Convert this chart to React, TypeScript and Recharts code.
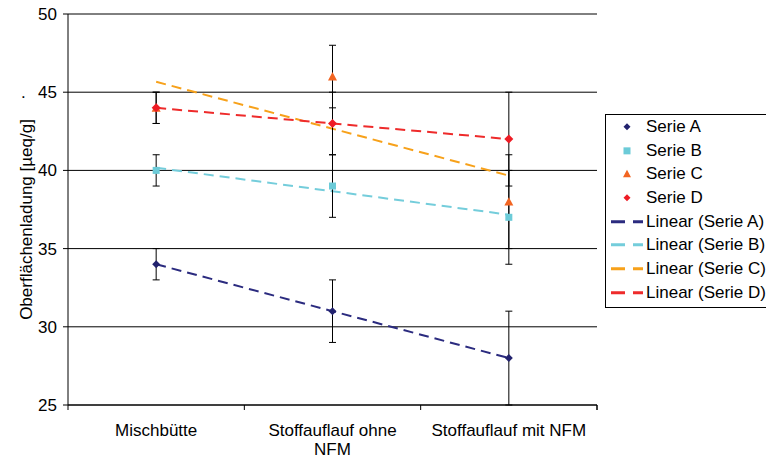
import React from 'react'
import { ComposedChart, Line, XAxis, YAxis, CartesianGrid, ErrorBar } from 'recharts'

const categories = ['Mischbütte', 'Stoffauflauf ohne NFM', 'Stoffauflauf mit NFM']
const serieA = [34, 31, 28]
const serieB = [40, 39, 37]
const serieC = [44, 46, 38]
const serieD = [44, 43, 42]
const errorA = [1, 2, 3]
const errorB = [1, 2, 3]
const errorC = [1, 2, 3]
const errorD = [1, 2, 3]
const yTicks = [25, 30, 35, 40, 45, 50]

const FONT = '"Liberation Sans", Arial, sans-serif'

// least squares line over the category index, like Excel's "Linear" trendline
const linearFit = (values: number[]) => {
    const n = values.length
    const xs = values.map((_, i) => i + 1)
    const mx = xs.reduce((a, b) => a + b, 0) / n
    const my = values.reduce((a, b) => a + b, 0) / n
    let num = 0
    let den = 0
    xs.forEach((x, i) => {
        num += (x - mx) * (values[i] - my)
        den += (x - mx) ** 2
    })
    const slope = num / den
    return xs.map((x) => my + slope * (x - mx))
}

type Shape = 'diamond' | 'square' | 'triangle'

const series = [
    { key: 'A', name: 'Serie A', values: serieA, errors: errorA, marker: '#22226e', line: '#2b2b7f', shape: 'diamond' as Shape, size: 4 },
    { key: 'B', name: 'Serie B', values: serieB, errors: errorB, marker: '#6ccbd8', line: '#74cddb', shape: 'square' as Shape, size: 3.5 },
    { key: 'C', name: 'Serie C', values: serieC, errors: errorC, marker: '#f26522', line: '#f7a11a', shape: 'triangle' as Shape, size: 4.5 },
    { key: 'D', name: 'Serie D', values: serieD, errors: errorD, marker: '#ee1c25', line: '#ee2b2b', shape: 'diamond' as Shape, size: 4.5 },
]

const data = categories.map((cat, i) => {
    const row: Record<string, string | number> = { cat }
    series.forEach((s) => {
        row[s.key] = s.values[i]
        row['e' + s.key] = s.errors[i]
        row['t' + s.key] = linearFit(s.values)[i]
    })
    return row
})

// word wrap like Excel does for long category names
let ctx: CanvasRenderingContext2D | null = null
const wrapLabel = (label: string, maxWidth: number) => {
    if (!ctx) ctx = document.createElement('canvas').getContext('2d')
    if (!ctx) return [label]
    ctx.font = `17px ${FONT}`
    const words = label.split(' ')
    const lines: string[] = []
    let cur = ''
    words.forEach((w) => {
        const next = cur ? cur + ' ' + w : w
        if (cur && ctx!.measureText(next).width > maxWidth) {
            lines.push(cur)
            cur = w
        } else {
            cur = next
        }
    })
    if (cur) lines.push(cur)
    return lines
}

const drawShape = (shape: Shape, cx: number, cy: number, r: number, color: string, key?: string) => {
    if (shape === 'square') {
        return <rect key={key} x={cx - r} y={cy - r} width={r * 2} height={r * 2} fill={color} />
    }
    if (shape === 'triangle') {
        return (
            <polygon
                key={key}
                points={`${cx},${cy - r} ${cx + r},${cy + r * 0.85} ${cx - r},${cy + r * 0.85}`}
                fill={color}
            />
        )
    }
    return (
        <polygon
            key={key}
            points={`${cx},${cy - r} ${cx + r},${cy} ${cx},${cy + r} ${cx - r},${cy}`}
            fill={color}
        />
    )
}

const markerDot = (shape: Shape, color: string, size: number) => (props: any) => {
    const { cx, cy, index } = props
    if (cx == null || cy == null) return <g key={`m-${index}`} />
    return drawShape(shape, cx, cy, size, color, `m-${shape}-${color}-${index}`)
}

const CategoryTick = (props: any) => {
    const { x, y, payload, index, visibleTicksCount } = props
    const half = payload && payload.offset ? payload.offset : 88
    const count = visibleTicksCount || categories.length
    const lines = wrapLabel(String(payload.value), 162)
    return (
        <g>
            {index === 0 && <line x1={x - half} x2={x - half} y1={y - 5} y2={y} stroke="#000" />}
            <line x1={x + half} x2={x + half} y1={y - 5} y2={y} stroke="#000" />
            {index === count - 1 && <line x1={x + half} x2={x + half} y1={y - 5} y2={y} stroke="#000" />}
            <text x={x} y={y + 26} textAnchor="middle" fontSize={17} fontFamily={FONT} fill="#000">
                {lines.map((l, i) => (
                    <tspan key={i} x={x} dy={i === 0 ? 0 : 19}>
                        {l}
                    </tspan>
                ))}
            </text>
        </g>
    )
}

const YLabel = (props: any) => {
    const vb = props.viewBox || { x: 0, y: 14, width: 68, height: 391 }
    const cx = vb.x + 26
    const cy = vb.y + vb.height / 2 + 10
    return (
        <g>
            <text
                x={cx}
                y={cy}
                transform={`rotate(-90 ${cx} ${cy})`}
                textAnchor="middle"
                dominantBaseline="central"
                fontSize={17}
                fontFamily={FONT}
                fill="#000"
            >
                Oberflächenladung [µeq/g]
            </text>
            <text x={cx - 5} y={vb.y + 84} fontSize={17} fontFamily={FONT} fill="#000">
                .
            </text>
        </g>
    )
}

const ChartLegend = () => (
    <div
        style={{
            position: 'absolute',
            left: 605,
            top: 114,
            width: 180,
            border: '1px solid #000',
            background: '#fff',
            fontFamily: FONT,
            fontSize: 17,
            paddingBottom: 2,
        }}
    >
        {series.map((s) => (
            <div key={s.key} style={{ display: 'flex', alignItems: 'center', height: 23.7 }}>
                <svg width={40} height={23.7} style={{ flex: 'none' }}>
                    {drawShape(s.shape, 21, 11.85, s.shape === 'triangle' ? 4 : 3.5, s.marker)}
                </svg>
                <span style={{ whiteSpace: 'nowrap' }}>{s.name}</span>
            </div>
        ))}
        {series.map((s) => (
            <div key={'t' + s.key} style={{ display: 'flex', alignItems: 'center', height: 23.7 }}>
                <svg width={40} height={23.7} style={{ flex: 'none' }}>
                    <line x1={5} x2={37} y1={11.85} y2={11.85} stroke={s.line} strokeWidth={3} strokeDasharray="14 8" />
                </svg>
                <span style={{ whiteSpace: 'nowrap' }}>Linear ({s.name})</span>
            </div>
        ))}
    </div>
)

const App = () => {
    return (
        <div style={{ position: 'absolute', left: 0, top: 0, width: 766, height: 459, overflow: 'hidden', background: '#fff' }}>
            <ComposedChart width={766} height={459} data={data} margin={{ top: 14, right: 169, bottom: 0, left: 0 }}>
                <CartesianGrid vertical={false} stroke="#000" strokeWidth={1} />
                <XAxis
                    dataKey="cat"
                    scale="band"
                    axisLine={{ stroke: '#000' }}
                    tickLine={false}
                    tickSize={5}
                    tickMargin={0}
                    interval={0}
                    height={54}
                    tick={<CategoryTick />}
                />
                <YAxis
                    domain={[25, 50]}
                    ticks={yTicks}
                    width={68}
                    axisLine={{ stroke: '#000' }}
                    tickLine={{ stroke: '#000' }}
                    tickSize={5}
                    tickMargin={6}
                    tick={{ fill: '#000', fontSize: 17, fontFamily: FONT }}
                    label={(p: any) => <YLabel {...p} />}
                />
                <YAxis
                    yAxisId="right"
                    orientation="right"
                    domain={[25, 50]}
                    width={0}
                    tick={false}
                    tickLine={false}
                    axisLine={{ stroke: '#000' }}
                />
                {series.map((s) => (
                    <Line
                        key={'t' + s.key}
                        type="linear"
                        dataKey={'t' + s.key}
                        stroke={s.line}
                        strokeWidth={2}
                        strokeDasharray="10 6"
                        dot={false}
                        activeDot={false}
                        isAnimationActive={false}
                    />
                ))}
                {series.map((s) => (
                    <Line
                        key={s.key}
                        type="linear"
                        dataKey={s.key}
                        stroke="none"
                        dot={markerDot(s.shape, s.marker, s.size)}
                        activeDot={false}
                        isAnimationActive={false}
                    >
                        <ErrorBar dataKey={'e' + s.key} width={3.5} stroke="#000" strokeWidth={1} />
                    </Line>
                ))}
            </ComposedChart>
            <ChartLegend />
        </div>
    )
}

export default App
